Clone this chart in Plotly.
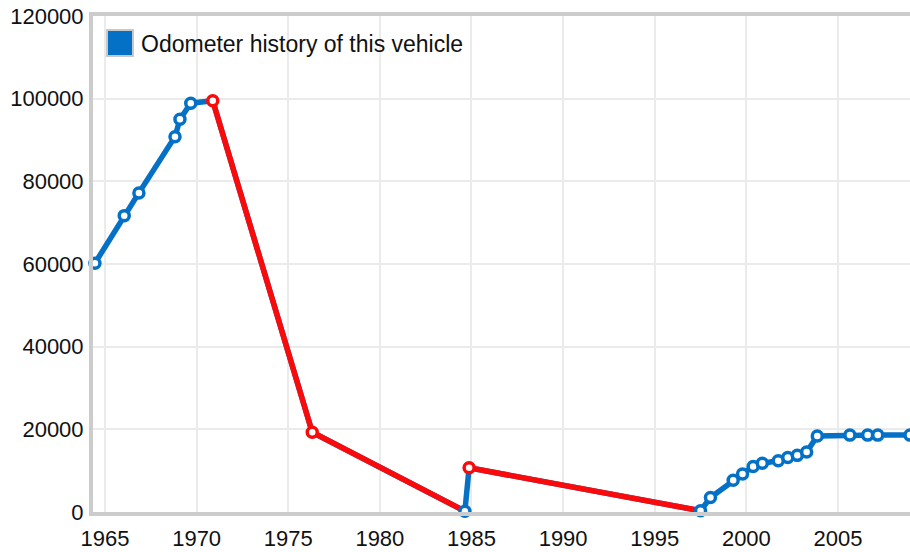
import plotly.graph_objects as go

# Odometer readings (decimal year, miles)
years = [1964.45, 1966.05, 1966.85, 1968.82, 1969.09, 1969.68, 1970.88,
         1976.31, 1984.64, 1984.87, 1997.50, 1998.04, 1999.28, 1999.79,
         2000.37, 2000.87, 2001.74, 2002.26, 2002.78, 2003.29, 2003.87,
         2005.65, 2006.62, 2007.17, 2008.93]
miles = [60200, 71700, 77200, 90800, 95000, 98900, 99500,
         19300, 200, 10700, 300, 3500, 7700, 9200,
         11000, 11800, 12400, 13200, 13700, 14500, 18400,
         18600, 18600, 18600, 18600]

x_ticks = [1965, 1970, 1975, 1980, 1985, 1990, 1995, 2000, 2005]
y_ticks = [0, 20000, 40000, 60000, 80000, 100000, 120000]
legend_label = "Odometer history of this vehicle"

BLUE = "#0571c6"
RED = "#fa0a0a"

# Segments where the reading goes down are drawn red
red_x, red_y = [], []
for i in range(len(miles) - 1):
    if miles[i + 1] < miles[i]:
        red_x += [years[i], years[i + 1], None]
        red_y += [miles[i], miles[i + 1], None]
marker_colors = [RED if (i < len(miles) - 1 and miles[i + 1] < miles[i]) else BLUE
                 for i in range(len(miles))]

fig = go.Figure()
fig.add_trace(go.Scatter(x=years, y=miles, mode="lines",
                         line=dict(color=BLUE, width=5.5), cliponaxis=False,
                         hoverinfo="skip", showlegend=False))
fig.add_trace(go.Scatter(x=red_x, y=red_y, mode="lines",
                         line=dict(color=RED, width=5.5), cliponaxis=False,
                         hoverinfo="skip", showlegend=False))
fig.add_trace(go.Scatter(x=years, y=miles, mode="markers", cliponaxis=False,
                         marker=dict(size=10, color="white",
                                     line=dict(color=marker_colors, width=3.5)),
                         showlegend=False, name=legend_label))

W, H = 910, 552
L, R, T, B = 93, 0, 16, 40
pw, ph = W - L - R, H - T - B

def px(x):
    return (x - L) / pw

def py(y):
    return (H - B - y) / ph

# manual legend
fig.add_shape(type="rect", xref="paper", yref="paper",
              x0=px(107), x1=px(133), y0=py(56), y1=py(30),
              fillcolor=BLUE, line=dict(color="#c8c8c8", width=2))
fig.add_annotation(xref="paper", yref="paper", x=px(139), y=py(44),
                   text=legend_label, showarrow=False, xanchor="left", yanchor="middle",
                   font=dict(family="Liberation Sans, Arial", size=23, color="#111"))

fig.update_layout(
    width=W, height=H,
    margin=dict(l=L, r=R, t=T, b=B),
    paper_bgcolor="white", plot_bgcolor="white",
    font=dict(family="Liberation Sans, Arial", size=22, color="#111"),
    xaxis=dict(range=[1964.345, 2008.93], tickmode="array", tickvals=x_ticks,
               ticktext=[str(v) for v in x_ticks], automargin=False,
               showgrid=True, gridcolor="#ebebeb", gridwidth=2,
               showline=True, linecolor="#cccccc", linewidth=4, mirror=True,
               ticks="outside", ticklen=4, tickcolor="rgba(0,0,0,0)",
               zeroline=False, fixedrange=True),
    yaxis=dict(range=[0, 120000], tickmode="array", tickvals=y_ticks,
               ticktext=[str(v) for v in y_ticks], automargin=False,
               showgrid=True, gridcolor="#ebebeb", gridwidth=2,
               showline=True, linecolor="#cccccc", linewidth=4,
               ticks="outside", ticklen=1, tickcolor="rgba(0,0,0,0)",
               zeroline=False, fixedrange=True),
)

fig.write_html("out.html", config={"displayModeBar": False},
               post_script="document.body.style.margin='0px';document.body.style.overflow='hidden';")
